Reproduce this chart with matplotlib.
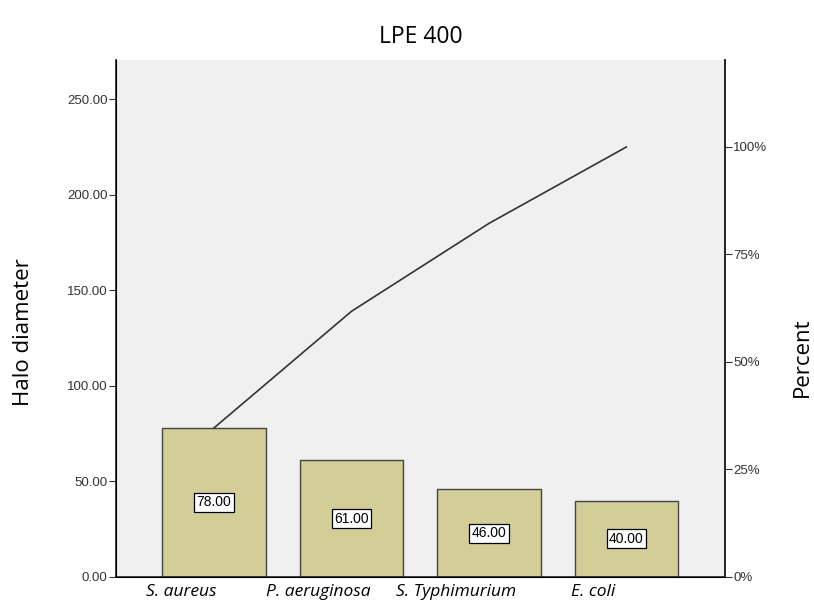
import matplotlib.pyplot as plt
import matplotlib.transforms as mtransforms
import numpy as np

categories = ['S. aureus', 'P. aeruginosa', 'S. Typhimurium', 'E. coli']
halo = [78.00, 61.00, 46.00, 40.00]
left_ticks = [0, 50, 100, 150, 200, 250]
pct_ticks = [0, 25, 50, 75, 100]

total = sum(halo)
cum = np.cumsum(halo)
x = np.arange(len(categories))

fig = plt.figure(figsize=(8.14, 6.14), dpi=100)
ax = fig.add_axes([0.1425, 0.0603, 0.748, 0.842])
ax.set_facecolor('#f0f0f0')

ax.bar(x, halo, width=0.75, color='#d3ce98', edgecolor='#444444', linewidth=1.0, zorder=2)
ax.plot(x, cum, color='#333333', linewidth=1.2, zorder=3)

for xi, v in zip(x, halo):
    ax.text(xi, v / 2, f'{v:.2f}', ha='center', va='center', fontsize=10,
            family='Liberation Sans', zorder=4,
            bbox=dict(boxstyle='square,pad=0.18', fc='white', ec='black', lw=0.9))

ax.set_xlim(-0.713, 3.716)
ax.set_ylim(0, 270.5)
ax.set_yticks(left_ticks)
ax.set_yticklabels([f'{t:.2f}' for t in left_ticks], family='Liberation Sans', fontsize=9.5, color='#333333')
ax.tick_params(axis='y', direction='out', length=5, width=0.8, color='#333333', pad=1)
ax.set_xticks(x)
ax.set_xticklabels(categories, family='Open Sans', style='italic', fontsize=12.5)
ax.tick_params(axis='x', direction='in', length=3, color='#bbbbbb', pad=5)
# labels sit a bit left of the bar centres in the original
shift = mtransforms.ScaledTranslation(-33 / 100, 0, fig.dpi_scale_trans)
for lbl in ax.get_xticklabels():
    lbl.set_transform(lbl.get_transform() + shift)
ax.spines['top'].set_visible(False)
for s in ['left', 'right', 'bottom']:
    ax.spines[s].set_linewidth(1.2)
    ax.spines[s].set_color('#222222')

ax2 = ax.twinx()
ax2.set_ylim(0, 270.5 / total * 100)
ax2.set_yticks(pct_ticks)
ax2.set_yticklabels([f'{t}%' for t in pct_ticks], family='Liberation Sans', fontsize=9.5, color='#333333')
ax2.tick_params(axis='y', direction='out', length=5, width=0.8, color='#333333', pad=1)
ax2.spines['top'].set_visible(False)
ax2.spines['right'].set_linewidth(1.2)
ax2.spines['right'].set_color('#222222')

ax.text(-0.152, 0.474, 'Halo diameter', transform=ax.transAxes, rotation=90,
        ha='center', va='center', family='Open Sans', fontsize=16)
ax.text(1.127, 0.4255, 'Percent', transform=ax.transAxes, rotation=90,
        ha='center', va='center', family='Open Sans', fontsize=16)
ax.set_title('LPE 400', family='Open Sans', fontsize=16.5, pad=12)

fig.savefig('out.png', dpi=100)
